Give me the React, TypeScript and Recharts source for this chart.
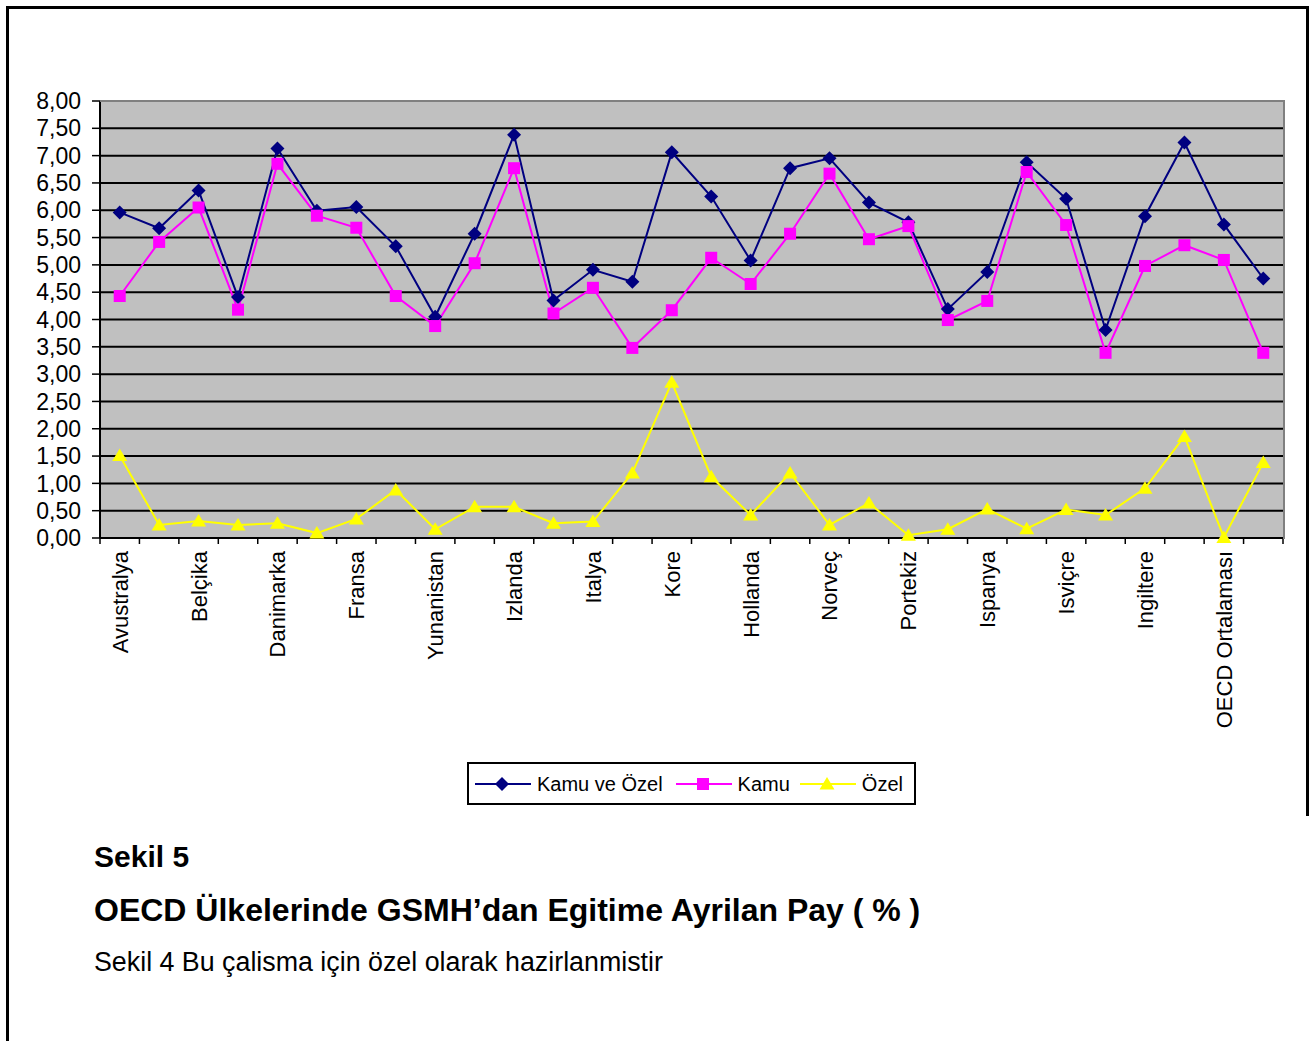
import React from 'react';
import { LineChart, Line, XAxis, YAxis, CartesianGrid } from 'recharts';

const categories = [
  'Avustralya', 'Avusturya', 'Belçika', 'Kanada', 'Danimarka', 'Finlandiya', 'Fransa', 'Almanya',
  'Yunanistan', 'Macaristan', 'Izlanda', 'Irlanda', 'Italya', 'Japonya', 'Kore', 'Meksika',
  'Hollanda', 'Yeni Zelanda', 'Norveç', 'Polonya', 'Portekiz', 'Slovakya', 'Ispanya', 'Isveç',
  'Isviçre', 'Türkiye', 'Ingiltere', 'ABD', 'OECD Ortalaması', 'Arjantin',
];

const kamuVeOzel = [
  5.96, 5.67, 6.36, 4.41, 7.13, 5.99, 6.06, 5.34, 4.05, 5.57,
  7.38, 4.35, 4.91, 4.69, 7.06, 6.25, 5.08, 6.77, 6.95, 6.14,
  5.78, 4.19, 4.87, 6.88, 6.21, 3.81, 5.89, 7.24, 5.74, 4.75,
];

const kamu = [
  4.43, 5.42, 6.05, 4.18, 6.85, 5.90, 5.68, 4.43, 3.88, 5.03,
  6.77, 4.11, 4.58, 3.48, 4.17, 5.13, 4.65, 5.57, 6.67, 5.47,
  5.71, 3.99, 4.34, 6.70, 5.73, 3.39, 4.98, 5.36, 5.09, 3.39,
];

const ozel = [
  1.51, 0.24, 0.31, 0.24, 0.27, 0.09, 0.35, 0.88, 0.16, 0.57,
  0.57, 0.27, 0.30, 1.19, 2.85, 1.12, 0.42, 1.19, 0.24, 0.64,
  0.05, 0.16, 0.53, 0.17, 0.52, 0.42, 0.91, 1.86, 0.01, 1.38,
];

const yTicks = [0, 0.5, 1, 1.5, 2, 2.5, 3, 3.5, 4, 4.5, 5, 5.5, 6, 6.5, 7, 7.5, 8];

const seriesKeys = ['kamuVeOzel', 'kamu', 'ozel'];
const seriesNames = ['Kamu ve Özel', 'Kamu', 'Özel'];
const seriesColors = ['#000080', '#FF00FF', '#FFFF00'];
const seriesMarkers = ['diamond', 'square', 'triangle'];

const data = categories.map((name, i) => ({
  name,
  kamuVeOzel: kamuVeOzel[i],
  kamu: kamu[i],
  ozel: ozel[i],
}));

const FONT = "'Liberation Sans', Arial, Helvetica, sans-serif";

const CHART_W = 1314;
const CHART_H = 740;
const MARGIN = { top: 101, right: 31, left: 0, bottom: 0 };
const Y_W = 100;
const X_H = CHART_H - MARGIN.top - 437;
const HALF_BAND = (CHART_W - MARGIN.left - MARGIN.right - Y_W) / categories.length / 2;

function Marker({ shape, cx, cy, color }: { shape: string; cx: number; cy: number; color: string }) {
  if (cx == null || cy == null || isNaN(cx) || isNaN(cy)) return null;
  if (shape === 'diamond') {
    return (
      <polygon
        points={`${cx},${cy - 7} ${cx + 7},${cy} ${cx},${cy + 7} ${cx - 7},${cy}`}
        fill={color}
      />
    );
  }
  if (shape === 'square') {
    return <rect x={cx - 6} y={cy - 6} width={12} height={12} fill={color} />;
  }
  return (
    <polygon
      points={`${cx},${cy - 7} ${cx + 7.5},${cy + 5.5} ${cx - 7.5},${cy + 5.5}`}
      fill={color}
    />
  );
}

function XTick(props: any) {
  const { x, y, payload } = props;
  const i = payload && payload.index != null ? payload.index : props.index;
  const half = payload && payload.offset ? payload.offset : HALF_BAND;
  const last = categories.length - 1;
  return (
    <g>
      <line x1={x - half} x2={x - half} y1={y} y2={y + 6} stroke="#000" strokeWidth={1.5} />
      {i === last && (
        <line x1={x + half} x2={x + half} y1={y} y2={y + 6} stroke="#000" strokeWidth={1.5} />
      )}
      {i % 2 === 0 && (
        <text
          transform={`translate(${x},${y + 13}) rotate(-90)`}
          textAnchor="end"
          dy="0.36em"
          fontSize={22}
          fontFamily={FONT}
          fill="#000"
        >
          {payload.value}
        </text>
      )}
    </g>
  );
}

function LegendIcon({ color, shape }: { color: string; shape: string }) {
  return (
    <svg width={56} height={20} style={{ display: 'block' }}>
      <line x1={0} x2={56} y1={10} y2={10} stroke={color} strokeWidth={2} />
      <Marker shape={shape} cx={27} cy={10} color={color} />
    </svg>
  );
}

export default function App() {
  return (
    <div
      style={{
        position: 'absolute',
        left: 0,
        top: 0,
        width: 1314,
        height: 1041,
        overflow: 'hidden',
        background: '#fff',
        fontFamily: FONT,
      }}
    >
      {/* page frame */}
      <div style={{ position: 'absolute', left: 6, top: 6, width: 1303, height: 3, background: '#000' }} />
      <div style={{ position: 'absolute', left: 6, top: 6, width: 3, height: 1035, background: '#000' }} />
      <div style={{ position: 'absolute', left: 1306, top: 6, width: 3, height: 810, background: '#000' }} />

      <div style={{ position: 'absolute', left: 0, top: 0 }}>
        <LineChart width={CHART_W} height={CHART_H} data={data} margin={MARGIN}>
          <CartesianGrid
            vertical={false}
            stroke="#000"
            strokeWidth={2}
            fill="#C0C0C0"
            fillOpacity={1}
          />
          <XAxis
            dataKey="name"
            type="category"
            interval={0}
            height={X_H}
            padding={{ left: HALF_BAND, right: HALF_BAND }}
            tickSize={0}
            tickMargin={0}
            tickLine={false}
            axisLine={{ stroke: '#000', strokeWidth: 2 }}
            tick={<XTick />}
          />
          <YAxis
            type="number"
            domain={[0, 8]}
            ticks={yTicks}
            interval={0}
            width={Y_W}
            tickSize={8}
            tickMargin={11}
            tickLine={{ stroke: '#000', strokeWidth: 1.5 }}
            axisLine={{ stroke: '#000', strokeWidth: 2 }}
            tick={{ fill: '#000', fontSize: 23, fontFamily: FONT }}
            tickFormatter={(v: number) => v.toFixed(2).replace('.', ',')}
          />
          {seriesKeys.map((k, si) => (
            <Line
              key={k}
              dataKey={k}
              name={seriesNames[si]}
              type="linear"
              stroke={seriesColors[si]}
              strokeWidth={2}
              isAnimationActive={false}
              activeDot={false}
              legendType="none"
              dot={(p: any) => (
                <Marker
                  key={`${k}-${p.index}`}
                  shape={seriesMarkers[si]}
                  cx={p.cx}
                  cy={p.cy}
                  color={seriesColors[si]}
                />
              )}
            />
          ))}
        </LineChart>
      </div>

      {/* plot area border (top and right, gray) */}
      <div
        style={{
          position: 'absolute',
          left: 100,
          top: 100,
          width: 1185,
          height: 439,
          boxSizing: 'border-box',
          borderTop: '2px solid #808080',
          borderRight: '2px solid #808080',
          pointerEvents: 'none',
        }}
      />

      {/* legend */}
      <div
        style={{
          position: 'absolute',
          left: 467,
          top: 762,
          width: 449,
          height: 43,
          boxSizing: 'border-box',
          border: '2px solid #000',
          display: 'flex',
          alignItems: 'center',
          paddingLeft: 6,
          fontSize: 20,
          color: '#000',
        }}
      >
        {seriesKeys.map((k, si) => (
          <div key={k} style={{ display: 'flex', alignItems: 'center', marginRight: si === 0 ? 13 : 10 }}>
            <LegendIcon color={seriesColors[si]} shape={seriesMarkers[si]} />
            <span style={{ marginLeft: 6, whiteSpace: 'nowrap', lineHeight: '20px' }}>{seriesNames[si]}</span>
          </div>
        ))}
      </div>

      {/* captions */}
      <div
        style={{
          position: 'absolute',
          left: 94,
          top: 842,
          fontSize: 30,
          lineHeight: '30px',
          fontWeight: 'bold',
          whiteSpace: 'nowrap',
          color: '#000',
        }}
      >
        Sekil 5
      </div>
      <div
        style={{
          position: 'absolute',
          left: 94,
          top: 894,
          fontSize: 32,
          lineHeight: '32px',
          fontWeight: 'bold',
          whiteSpace: 'nowrap',
          color: '#000',
        }}
      >
        OECD Ülkelerinde GSMH’dan Egitime Ayrilan Pay ( % )
      </div>
      <div
        style={{
          position: 'absolute',
          left: 94,
          top: 949,
          fontSize: 26.8,
          lineHeight: '26px',
          whiteSpace: 'nowrap',
          color: '#000',
        }}
      >
        Sekil 4 Bu çalisma için özel olarak hazirlanmistir
      </div>
    </div>
  );
}
